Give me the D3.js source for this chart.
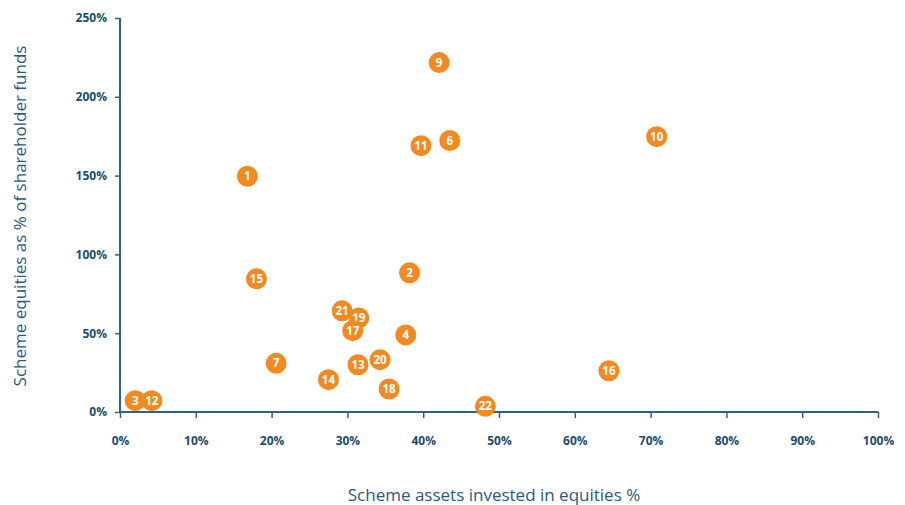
<!DOCTYPE html>
<html><head><meta charset="utf-8">
<script src="https://cdn.jsdelivr.net/npm/d3@7/dist/d3.min.js"></script>
<style>body{margin:0;background:#fff;} svg{display:block;font-family:"Open Sans","Noto Sans",sans-serif;}</style>
</head><body>
<svg id="c" width="905" height="505"></svg>
<script>
const ids = ["1","2","3","4","6","7","9","10","11","12","20","13","14","15","16","19","17","18","21","22"];
const xVals = [16.8,38.2,2.0,37.7,43.5,20.6,42.1,70.8,39.7,4.2,34.3,31.4,27.5,18.0,64.5,31.5,30.7,35.5,29.3,48.2];
const yVals = [149.6,88.3,7.2,48.9,172.3,30.9,221.7,174.7,169.0,7.2,33.2,30.0,20.5,84.5,26.2,59.7,51.6,14.6,64.2,3.6];
const xTicks = [0,10,20,30,40,50,60,70,80,90,100];
const yTicks = [0,50,100,150,200,250];
const xTitle = "Scheme assets invested in equities %";
const yTitle = "Scheme equities as % of shareholder funds";

const svg = d3.select("#c");
const axisCol = "#2f6384", textCol = "#1d4b6b";
const x = d3.scaleLinear().domain([0,100]).range([120,878]);
const y = d3.scaleLinear().domain([0,250]).range([412,18]);

const gx = svg.append("g").attr("transform","translate(0,412)")
  .call(d3.axisBottom(x).tickValues(xTicks).tickFormat(d=>d+"%").tickSizeOuter(0).tickSizeInner(6).tickPadding(18));
const gy = svg.append("g").attr("transform","translate(120,0)")
  .call(d3.axisLeft(y).tickValues(yTicks).tickFormat(d=>d+"%").tickSizeOuter(0).tickSizeInner(5).tickPadding(8));
[gx,gy].forEach(g=>{
  g.select(".domain").attr("stroke",axisCol).attr("stroke-width",2);
  g.selectAll(".tick line").attr("stroke",axisCol).attr("stroke-width",1.5);
  g.selectAll(".tick text").attr("fill",textCol).attr("font-size",12).attr("font-weight",700)
   .attr("font-family","'Open Sans','Noto Sans',sans-serif");
});
gx.select(".domain").attr("d","M120,0H878");
gy.select(".domain").attr("d","M0,412V18");

svg.append("text").attr("x",494).attr("y",501).attr("text-anchor","middle")
  .attr("fill","#2a5a7c").attr("font-size",17).text(xTitle);
svg.append("text").attr("transform","translate(26,216) rotate(-90)").attr("text-anchor","middle")
  .attr("fill","#2a5a7c").attr("font-size",17).text(yTitle);

const data = ids.map((id,i)=>({id,x:xVals[i],y:yVals[i]}));
const pts = svg.append("g").selectAll("g").data(data).join("g")
  .attr("transform",d=>`translate(${x(d.x)},${y(d.y)})`);
pts.append("circle").attr("r",10.5).attr("fill","#f28a22");
pts.append("text").attr("text-anchor","middle").attr("dy","0.36em")
  .attr("fill","#fff").attr("font-size",11.5).attr("font-weight",700).text(d=>d.id);
</script>
</body></html>
